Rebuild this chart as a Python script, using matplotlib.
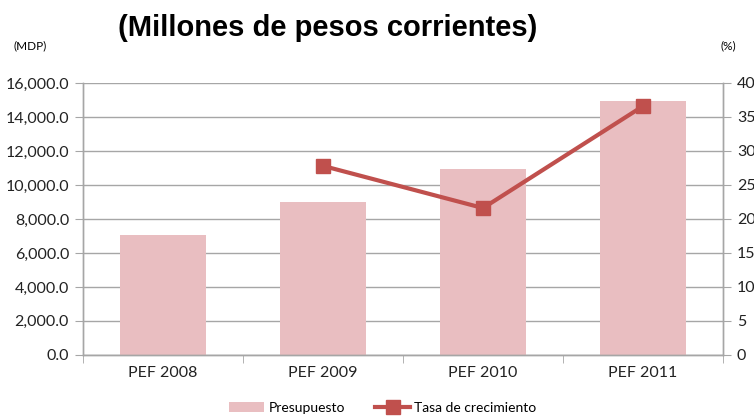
import numpy as np
import matplotlib.pyplot as plt
from matplotlib.ticker import FuncFormatter, FixedLocator

# datos
categorias = ['PEF 2008', 'PEF 2009', 'PEF 2010', 'PEF 2011']
presupuesto = [7050, 9000, 10950, 14950]
tasa = [np.nan, 27.8, 21.6, 36.6]

bar_color = '#e9bec1'
line_color = '#c0504d'
gris = '#a6a6a6'

plt.rcParams['font.family'] = ['Lato', 'DejaVu Sans']

fig = plt.figure(figsize=(7.54, 4.17), dpi=100)
ax = fig.add_axes([0.110, 0.149, 0.849, 0.652])
ax2 = ax.twinx()

x = np.arange(len(categorias))
b = ax.bar(x, presupuesto, width=0.54, color=bar_color, zorder=2, label='Presupuesto')
l, = ax2.plot(x, tasa, color=line_color, lw=3, marker='s', markersize=10.5,
              label='Tasa de crecimiento', zorder=3)

ax.set_ylim(0, 16000)
ax.set_yticks(np.arange(0, 16001, 2000))
ax.yaxis.set_major_formatter(FuncFormatter(lambda v, p: f'{v:,.1f}'))
ax2.set_ylim(0, 40)
ax2.set_yticks(np.arange(0, 41, 5))

ax.set_xlim(-0.5, 3.5)
ax.set_xticks(x)
ax.set_xticklabels(categorias)
ax.xaxis.set_minor_locator(FixedLocator(np.arange(-0.5, 4, 1)))
ax.tick_params(axis='x', which='major', length=0, pad=8, labelsize=11.5, colors='#222222')
ax.tick_params(axis='x', which='minor', length=6, color=gris, direction='out')

ax.grid(axis='y', color=gris, lw=1, zorder=0)
ax.set_axisbelow(True)
ax.tick_params(axis='y', length=6, color=gris, labelsize=11.5, labelcolor='#222222', pad=4)
ax2.tick_params(axis='y', length=6, color=gris, labelsize=11.5, labelcolor='#222222', pad=4)

for a in (ax, ax2):
    a.spines['top'].set_visible(False)
    for s in ('left', 'right', 'bottom'):
        a.spines[s].set_color(gris)
        a.spines[s].set_linewidth(1)

fig.text(0.435, 0.932, '(Millones de pesos corrientes)', ha='center', va='center',
         fontsize=21, fontweight='bold', family='Liberation Sans')
fig.text(0.018, 0.89, '(MDP)', ha='left', va='center', fontsize=8.5)
fig.text(0.955, 0.89, '(%)', ha='left', va='center', fontsize=8.5)

fig.legend([b, l], ['Presupuesto', 'Tasa de crecimiento'], loc='center',
           bbox_to_anchor=(0.508, 0.022), ncol=2, frameon=False, fontsize=10,
           handlelength=2.5, columnspacing=2.2, handletextpad=0.3)

fig.savefig('out.png', dpi=100)
